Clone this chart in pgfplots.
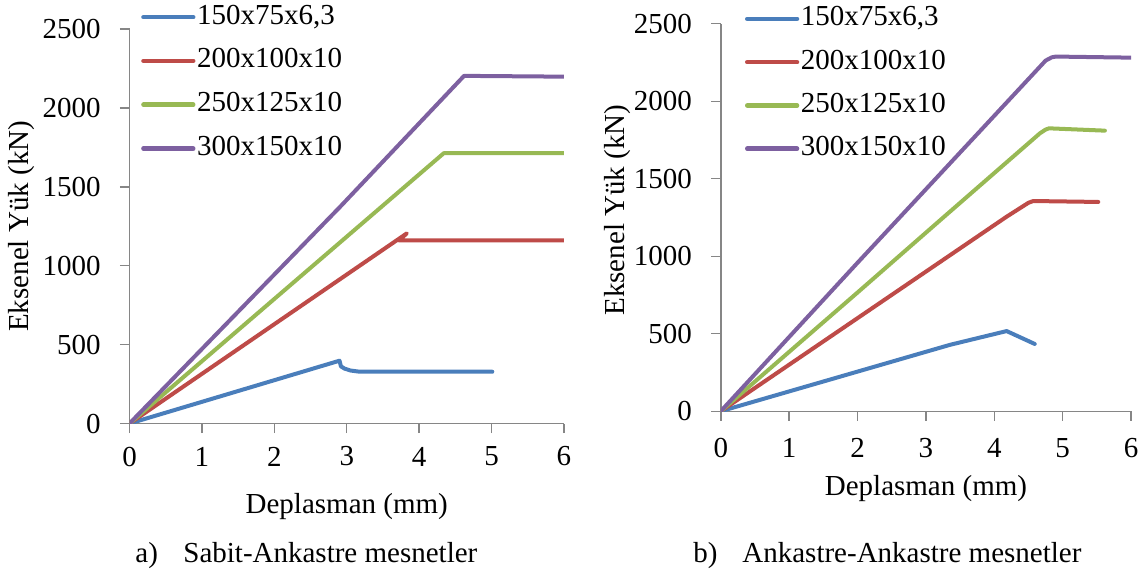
\documentclass[border=0pt]{standalone}
\usepackage{fontspec}
\setmainfont{Liberation Serif}
\usepackage{pgfplots}
\pgfplotsset{compat=1.18}
\definecolor{cblue}{HTML}{4A7EBB}
\definecolor{cred}{HTML}{BE4B48}
\definecolor{cgreen}{HTML}{98B954}
\definecolor{cpurple}{HTML}{7D60A0}
\definecolor{axgray}{HTML}{868686}
\newcommand{\fs}{\fontsize{14.5}{17}\selectfont}
\pgfplotsset{
  myax/.style={
    scale only axis,
    xmin=0, xmax=6, ymin=0, ymax=2500,
    xtick={0,1,2,3,4,5,6}, ytick={0,500,1000,1500,2000,2500},
    axis x line*=bottom, axis y line*=left,
    axis line style={draw=axgray, line width=0.7pt, -},
    tick style={draw=axgray, line width=0.7pt},
    tick align=outside, major tick length=4.75pt,
    scaled ticks=false,
    /pgf/number format/assume math mode=true,
    /pgf/number format/1000 sep={},
    tick label style={font=\fs, text=black},
    yticklabel style={anchor=east, xshift=-6.2pt},
    label style={font=\fs},
    ylabel={Eksenel Yük (kN)},
    xlabel={Deplasman (mm)},
    every axis plot/.append style={line width=2pt, line join=round, line cap=round},
    legend cell align=left,
    legend image code/.code={\draw[#1, line width=2.3pt] (0pt,0pt) -- (24.85pt,0pt);},
    legend style={draw=none, fill=none, font=\fs, inner sep=0pt, row sep=9.1pt,
      nodes={inner sep=0pt, text height=10pt, text depth=3pt},
      /tikz/every odd column/.append style={column sep=0.8pt}},
  }
}
\begin{document}
\begin{tikzpicture}
\useasboundingbox (0,0) rectangle (572pt,-286pt);
% ---------- left panel ----------
\begin{axis}[myax,
  at={(64.75pt,-211.75pt)}, anchor=south west,
  width=217.25pt, height=197.25pt,
  xticklabel style={anchor=center, yshift=-11.75pt},
  xlabel style={at={(axis description cs:0.5,0)}, anchor=center, yshift=-41.75pt},
  ylabel style={at={(axis description cs:-0.2474,0.5)}, anchor=center},
  legend style={at={(axis description cs:0.026,1.064)}, anchor=north west, row sep=8.9pt},
]
\addplot[cblue] coordinates {(0,0) (2.9,398) (2.92,362) (2.97,348) (3.05,336) (3.18,328) (5.01,328)};
\addlegendentry{150x75x6,3}
\addplot[cred] coordinates {(0,0) (3.83,1205) (3.72,1160) (6,1160)};
\addlegendentry{200x100x10}
\addplot[cgreen] coordinates {(0,0) (4.34,1713) (6,1713)};
\addlegendentry{250x125x10}
\addplot[cpurple] coordinates {(0,0) (2.91,1374) (4.62,2203) (6,2198)};
\addlegendentry{300x150x10}
\end{axis}
% ---------- right panel ----------
\begin{axis}[myax,
  at={(360.4pt,-205.6pt)}, anchor=south west,
  width=205.15pt, height=193.75pt,
  xticklabel style={anchor=center, yshift=-13.75pt},
  xlabel style={at={(axis description cs:0.5,0)}, anchor=center, yshift=-38.5pt},
  ylabel style={at={(axis description cs:-0.252,0.519)}, anchor=center},
  legend style={at={(axis description cs:0.058,1.047)}, anchor=north west, row sep=8.65pt},
]
\addplot[cblue] coordinates {(0,0) (3.35,428) (4.18,517) (4.59,434)};
\addlegendentry{150x75x6,3}
\addplot[cred] coordinates {(0,0) (4.18,1255) (4.5,1345) (4.569,1356) (5.52,1350)};
\addlegendentry{200x100x10}
\addplot[cgreen] coordinates {(0,0) (1.987,761) (3.35,1287) (4.667,1793) (4.75,1817) (4.8,1825) (5.617,1810)};
\addlegendentry{250x125x10}
\addplot[cpurple] coordinates {(0,0) (2,958) (4.75,2262) (4.84,2283) (4.9,2288) (6,2281)};
\addlegendentry{300x150x10}
\end{axis}
% ---------- captions ----------
\node[anchor=base west, font=\fs, inner sep=0pt] at (67.5pt,-281pt) {a)};
\node[anchor=base west, font=\fs, inner sep=0pt] at (91.5pt,-281pt) {Sabit-Ankastre mesnetler};
\node[anchor=base west, font=\fs, inner sep=0pt] at (346.5pt,-281pt) {b)};
\node[anchor=base west, font=\fs, inner sep=0pt] at (371pt,-281pt) {Ankastre-Ankastre mesnetler};
\end{tikzpicture}
\end{document}
